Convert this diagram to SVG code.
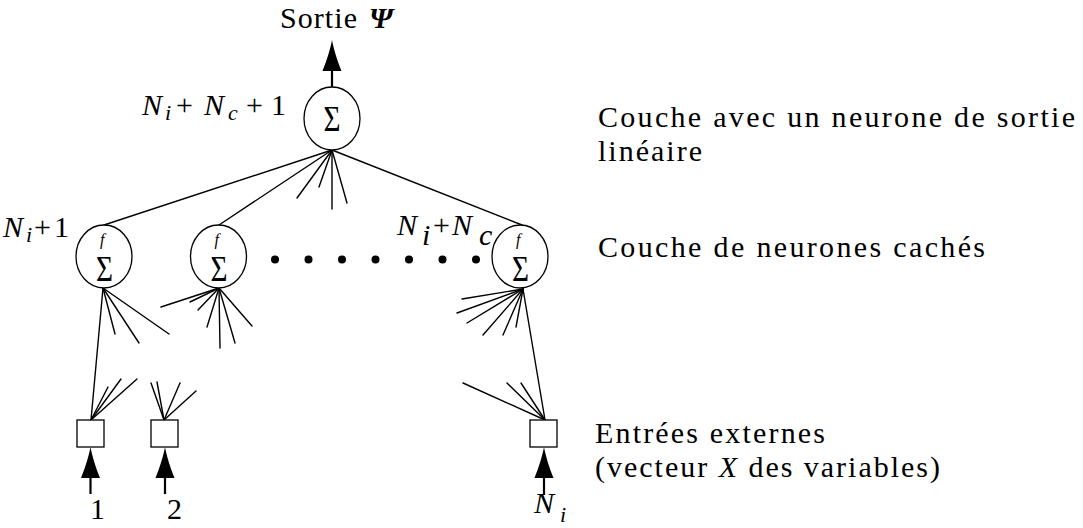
<svg xmlns="http://www.w3.org/2000/svg" xmlns:xlink="http://www.w3.org/1999/xlink" width="1083" height="528" viewBox="0 0 1083 528">
  <style>
    .edge { stroke: #000; stroke-width: 1.4; fill: none; stroke-linecap: round; }
    .shaft { stroke: #000; stroke-width: 2.2; fill: none; }
    .neuron { fill: #fff; stroke: #000; stroke-width: 1.3; }
    .input { fill: #fff; stroke: #000; stroke-width: 1.3; }
    .sigma { font-family: "Liberation Serif", "Times New Roman", serif; font-size: 36px; fill: #000; }
    .fn { font-family: "Liberation Serif", "Times New Roman", serif; font-style: italic; font-size: 16px; fill: #000; }
    .label { font-family: "Liberation Serif", "Times New Roman", serif; font-size: 30px; fill: #000; }
    .math { font-family: "Liberation Serif", "Times New Roman", serif; font-size: 30px; fill: #000; }
    .it { font-style: italic; }
    .sub { font-size: 22px; }
    .dot { fill: #000; }
  </style>
  <defs>
    <!-- arrowhead pointing up, tip at the origin -->
    <path id="head" d="M0,0 C1.5,8 5,20 9.5,31 L-9.5,31 C-5,20 -1.5,8 0,0 Z" fill="#000"/>
  </defs>

  <!-- connectors -->
  <g id="connectors">
    <!-- output neuron to hidden layer -->
    <line class="edge" x1="332" y1="150" x2="104" y2="225"/>
    <line class="edge" x1="332" y1="150" x2="219" y2="225"/>
    <line class="edge" x1="332" y1="150" x2="522" y2="225"/>
    <line class="edge" x1="332" y1="150" x2="297" y2="198"/>
    <line class="edge" x1="332" y1="150" x2="319" y2="187"/>
    <line class="edge" x1="332" y1="150" x2="332" y2="209"/>
    <line class="edge" x1="332" y1="150" x2="347" y2="203"/>

    <!-- hidden neuron 1 inputs -->
    <line class="edge" x1="103" y1="288" x2="91" y2="420"/>
    <line class="edge" x1="103" y1="288" x2="115" y2="334"/>
    <line class="edge" x1="103" y1="288" x2="139" y2="343"/>
    <line class="edge" x1="103" y1="288" x2="169" y2="334"/>

    <!-- hidden neuron 2 inputs -->
    <line class="edge" x1="219" y1="288" x2="161" y2="307"/>
    <line class="edge" x1="219" y1="288" x2="190" y2="302"/>
    <line class="edge" x1="219" y1="288" x2="198" y2="310"/>
    <line class="edge" x1="219" y1="288" x2="207" y2="327"/>
    <line class="edge" x1="219" y1="288" x2="220" y2="348"/>
    <line class="edge" x1="219" y1="288" x2="235" y2="343"/>
    <line class="edge" x1="219" y1="288" x2="252" y2="326"/>

    <!-- hidden neuron N_i+N_c inputs -->
    <line class="edge" x1="523" y1="289" x2="545" y2="420"/>
    <line class="edge" x1="523" y1="289" x2="462" y2="299"/>
    <line class="edge" x1="523" y1="289" x2="457" y2="313"/>
    <line class="edge" x1="523" y1="289" x2="467" y2="323"/>
    <line class="edge" x1="523" y1="289" x2="483" y2="335"/>
    <line class="edge" x1="523" y1="289" x2="503" y2="335"/>
    <line class="edge" x1="523" y1="289" x2="516" y2="327"/>

    <!-- outgoing links of the input units -->
    <line class="edge" x1="91" y1="420" x2="108" y2="387"/>
    <line class="edge" x1="91" y1="420" x2="121" y2="379"/>
    <line class="edge" x1="91" y1="420" x2="137" y2="379"/>
    <line class="edge" x1="164" y1="420" x2="151" y2="383"/>
    <line class="edge" x1="164" y1="420" x2="157" y2="382"/>
    <line class="edge" x1="164" y1="420" x2="180" y2="383"/>
    <line class="edge" x1="164" y1="420" x2="196" y2="391"/>
    <line class="edge" x1="545" y1="420" x2="463" y2="383"/>
    <line class="edge" x1="545" y1="420" x2="507" y2="383"/>
    <line class="edge" x1="545" y1="420" x2="521" y2="383"/>

    <!-- output arrow -->
    <line class="shaft" x1="332" y1="87" x2="332" y2="70"/>
    <use xlink:href="#head" x="332" y="40"/>

    <!-- input arrows -->
    <line class="shaft" x1="90.5" y1="476" x2="90.5" y2="494"/>
    <use xlink:href="#head" x="90.5" y="447"/>
    <line class="shaft" x1="165" y1="476" x2="165" y2="494"/>
    <use xlink:href="#head" x="165" y="447"/>
    <line class="shaft" x1="544" y1="476" x2="544" y2="495"/>
    <use xlink:href="#head" x="544" y="447"/>
  </g>

  <!-- output neuron (linear) -->
  <g id="node-output">
    <ellipse class="neuron" cx="332" cy="118.5" rx="28" ry="31.5"/>
    <text class="sigma" x="323.5" y="131" textLength="17" lengthAdjust="spacingAndGlyphs">Σ</text>
  </g>

  <!-- hidden neurons -->
  <g id="node-hidden-1">
    <ellipse class="neuron" cx="104" cy="256.5" rx="28" ry="31.5"/>
    <text class="fn" x="100" y="245">f</text>
    <text class="sigma" x="96" y="281" textLength="17" lengthAdjust="spacingAndGlyphs">Σ</text>
  </g>
  <g id="node-hidden-2">
    <ellipse class="neuron" cx="218.5" cy="256.5" rx="28" ry="31.5"/>
    <text class="fn" x="214.5" y="245">f</text>
    <text class="sigma" x="210.5" y="281" textLength="17" lengthAdjust="spacingAndGlyphs">Σ</text>
  </g>
  <g id="node-hidden-n">
    <ellipse class="neuron" cx="520" cy="256.5" rx="28" ry="31.5"/>
    <text class="fn" x="516" y="245">f</text>
    <text class="sigma" x="512" y="281" textLength="17" lengthAdjust="spacingAndGlyphs">Σ</text>
  </g>

  <!-- ellipsis between hidden neurons -->
  <g id="ellipsis">
    <circle class="dot" cx="275" cy="259.5" r="4"/>
    <circle class="dot" cx="308.5" cy="259.5" r="4"/>
    <circle class="dot" cx="342" cy="259.5" r="4"/>
    <circle class="dot" cx="375.5" cy="259.5" r="4"/>
    <circle class="dot" cx="409" cy="259.5" r="4"/>
    <circle class="dot" cx="442.5" cy="259.5" r="4"/>
    <circle class="dot" cx="476" cy="259.5" r="4"/>
  </g>

  <!-- input units -->
  <g id="node-input-1">
    <rect class="input" x="77" y="420" width="27" height="27"/>
  </g>
  <g id="node-input-2">
    <rect class="input" x="151" y="420" width="27" height="27"/>
  </g>
  <g id="node-input-n">
    <rect class="input" x="530" y="420" width="27" height="27"/>
  </g>

  <!-- neuron indices -->
  <g id="indices">
    <text class="math" y="115"><tspan class="it" x="142">N</tspan><tspan class="it sub" x="165" y="120">i</tspan><tspan x="176" y="115">+</tspan><tspan class="it" x="204">N</tspan><tspan class="it sub" x="228" y="120">c</tspan><tspan x="246" y="115">+</tspan><tspan x="271">1</tspan></text>
    <text class="math" y="237"><tspan class="it" x="3">N</tspan><tspan class="it sub" x="26" y="242">i</tspan><tspan x="34" y="237">+</tspan><tspan x="54">1</tspan></text>
    <text class="math" y="235"><tspan class="it" x="397">N</tspan><tspan class="it" x="422" y="245">i</tspan><tspan x="433" y="235">+</tspan><tspan class="it" x="452">N</tspan><tspan class="it" x="479" y="245">c</tspan></text>
    <text class="math" x="90" y="519">1</text>
    <text class="math" x="167" y="519">2</text>
    <text class="math" y="513"><tspan class="it" x="534">N</tspan><tspan class="it sub" x="560" y="522">i</tspan></text>
  </g>

  <!-- output label -->
  <text class="label" x="280" y="28" textLength="77">Sortie</text>
  <text class="label" x="369" y="28" font-style="italic" font-weight="bold">Ψ</text>

  <!-- layer descriptions -->
  <g id="layer-labels">
    <text class="label" x="598" y="127" textLength="477">Couche avec un neurone de sortie</text>
    <text class="label" x="598" y="161" textLength="104">linéaire</text>
    <text class="label" x="598" y="257" textLength="387">Couche de neurones cachés</text>
    <text class="label" x="595" y="443" textLength="230">Entrées externes</text>
    <text class="label" x="595" y="477" textLength="345">(vecteur <tspan font-style="italic">X</tspan> des variables)</text>
  </g>
</svg>
